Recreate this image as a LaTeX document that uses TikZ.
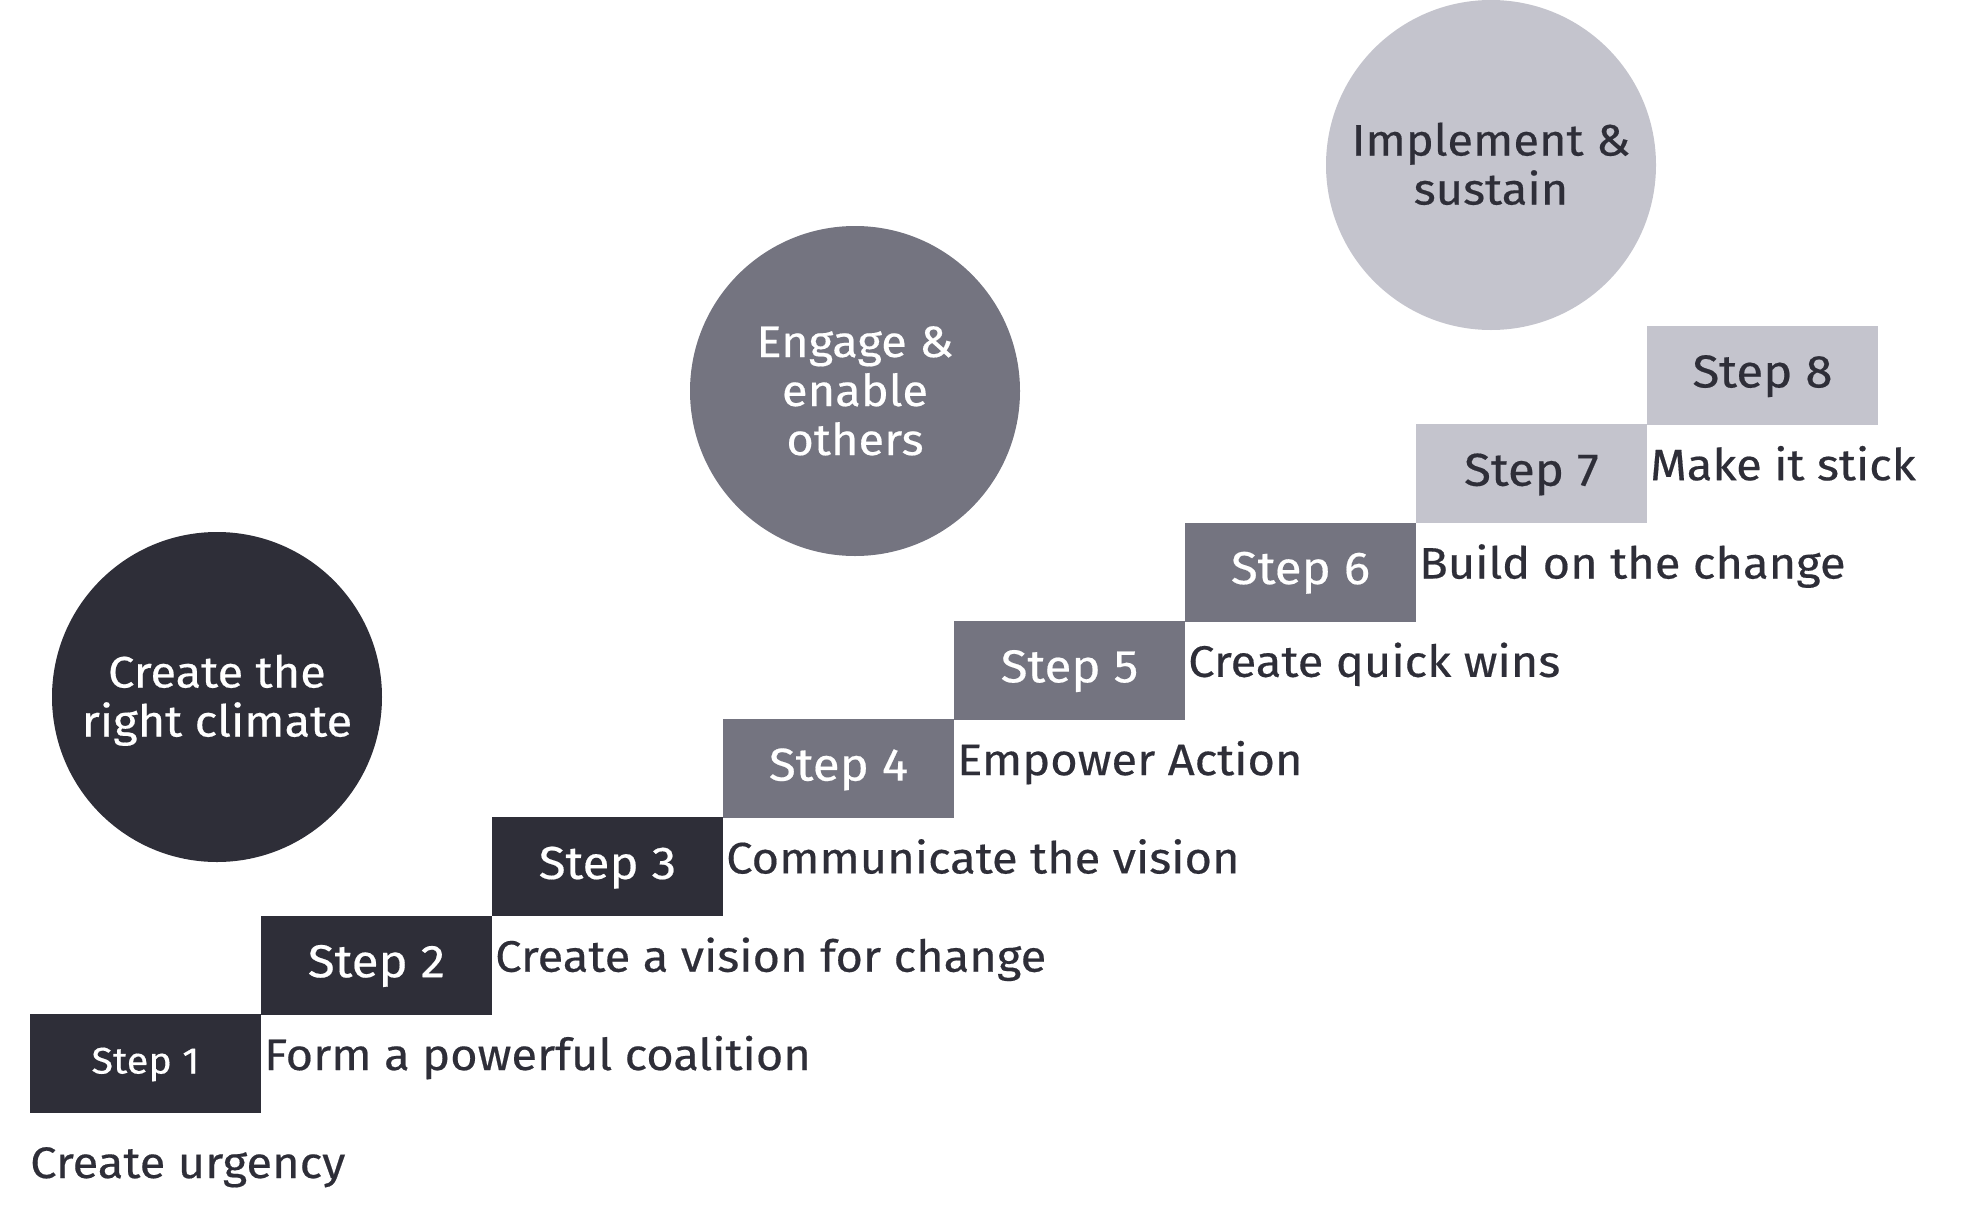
\documentclass[tikz,border=0pt]{standalone}
\usepackage{fontspec}
\setmainfont{Fira Sans}[FakeStretch=1.07, FakeBold=0.4]
\definecolor{eydark}{HTML}{2E2E38}
\definecolor{eymid}{HTML}{747480}
\definecolor{eylight}{HTML}{C4C4CD}
\begin{document}
\begin{tikzpicture}[x=1pt,y=-1pt,
  stepbox/.style={rectangle, minimum width=231pt, minimum height=99pt, inner sep=0pt, outer sep=0pt,
    anchor=north west, font=\fontsize{46}{52}\selectfont, text height=31pt, text depth=7pt},
  darkstep/.style={stepbox, fill=eydark, text=white},
  midstep/.style={stepbox, fill=eymid, text=white},
  lightstep/.style={stepbox, fill=eylight, text=eydark},
  phase/.style={circle, minimum size=330pt, inner sep=0pt, align=center,
    font=\fontsize{44}{49}\selectfont, text depth=0pt},
  desc/.style={anchor=base west, inner sep=0pt, text=eydark, font=\fontsize{44}{52}\selectfont}]
\useasboundingbox (0,0) rectangle (1978,1218);
% phase circles
\node[phase, fill=eydark, text=white, text height=79pt] (c1) at (217,697) {Create the\\right climate};
\node[phase, fill=eymid, text=white, text height=128pt] (c2) at (855,391) {Engage \&\\enable\\others};
\node[phase, fill=eylight, text=eydark, text height=79pt] (c3) at (1491,165) {Implement \&\\sustain};
% steps
\node[darkstep, font=\fontsize{37}{44}\selectfont, text height=25pt, text depth=5pt] (s1) at (30,1014) {Step 1};
\node[darkstep] (s2) at (261,915.7) {Step 2};
\node[darkstep] (s3) at (492,817.4) {Step 3};
\node[midstep] (s4) at (723,719.1) {Step 4};
\node[midstep] (s5) at (954,620.8) {Step 5};
\node[midstep] (s6) at (1185,522.5) {Step 6};
\node[lightstep] (s7) at (1416,424.2) {Step 7};
\node[lightstep] (s8) at (1647,325.9) {Step 8};
% descriptions
\node[desc] (d1) at (30,1178) {Create urgency};
\node[desc] (d2) at (264,1070) {Form a powerful coalition};
\node[desc] (d3) at (495,971.7) {Create a vision for change};
\node[desc] (d4) at (726,873.4) {Communicate the vision};
\node[desc] (d5) at (957,775.1) {Empower Action};
\node[desc] (d6) at (1188,676.8) {Create quick wins};
\node[desc] (d7) at (1419,578.5) {Build on the change};
\node[desc] (d8) at (1650,480.2) {Make it stick};
\end{tikzpicture}
\end{document}
